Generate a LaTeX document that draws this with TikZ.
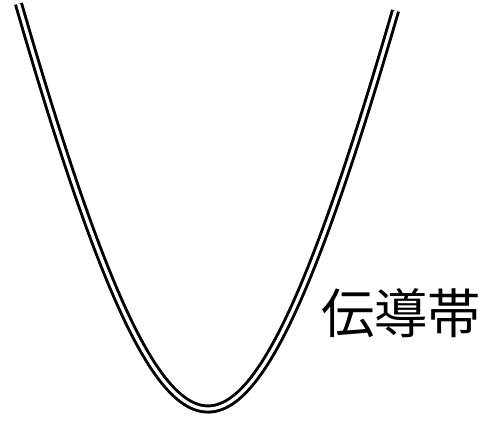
\documentclass[tikz,border=0pt]{standalone}
\usepackage{fontspec}
\newfontfamily\cjk{Noto Sans CJK JP}
\begin{document}
\begin{tikzpicture}[x=0.75pt,y=-0.75pt,
  band/.style={draw=black,line width=2.2pt,double=white,double distance=2.4pt,line cap=butt},
  label/.style={inner sep=0pt,font=\cjk\fontsize{40pt}{44pt}\selectfont}]
\useasboundingbox (0,0) rectangle (484,420);
\draw[band] plot[domain=-18.95:18.75,samples=120,smooth,variable=\t]
  ({208+10*\t},{409-44.2*(sqrt(\t*\t+225)-15)});
\node[label] (cb) at (401,313.5) {伝導帯};
\end{tikzpicture}
\end{document}
